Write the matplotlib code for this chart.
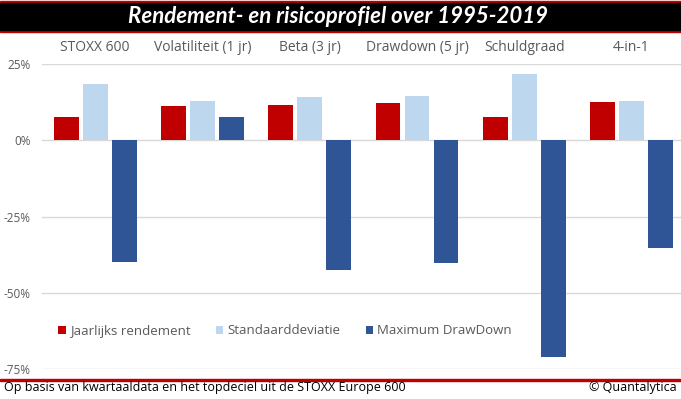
import numpy as np
import matplotlib
matplotlib.use('Agg')
import matplotlib.pyplot as plt
from matplotlib.patches import Rectangle

plt.rcParams['font.family'] = ['Open Sans', 'DejaVu Sans']

# data (fracties)
categorieen = ['STOXX 600', 'Volatiliteit (1 jr)', 'Beta (3 jr)', 'Drawdown (5 jr)', 'Schuldgraad', '4-in-1']
rendement = [0.076, 0.112, 0.115, 0.123, 0.076, 0.126]
stdev = [0.184, 0.128, 0.141, 0.146, 0.217, 0.128]
max_dd = [-0.40, 0.076, -0.427, -0.403, -0.71, -0.354]
reeksen = ['Jaarlijks rendement', 'Standaarddeviatie', 'Maximum DrawDown']
kleuren = ['#C00000', '#BDD7EE', '#2F5597']
yticks = [0.25, 0, -0.25, -0.5, -0.75]

W, H = 681, 399
fig = plt.figure(figsize=(W / 100, H / 100), dpi=100)

# titelbalk
fig.patches.append(Rectangle((0, 1 - 32 / H), 1, 31 / H, transform=fig.transFigure, color='#C00000', zorder=0))
fig.patches.append(Rectangle((0, 1 - 29.5 / H), 1, 26.3 / H, transform=fig.transFigure, color='black', zorder=1))
fig.text(338 / W, 1 - 16.5 / H, 'Rendement- en risicoprofiel over 1995-2019', color='white',
         fontsize=16, fontweight='bold', fontstyle='italic', family='Lato', ha='center', va='center')

ax = fig.add_axes([41.6 / W, 30 / H, 643.5 / W, 305 / H])
x = np.arange(len(categorieen))
b = 0.23
stap = 0.27
for i, (vals, kl) in enumerate(zip([rendement, stdev, max_dd], kleuren)):
    ax.bar(x + (i - 1) * stap, vals, b, color=kl, label=reeksen[i], zorder=3)

ax.set_xlim(-0.5, len(categorieen) - 0.5)
ax.set_ylim(-0.75, 0.25)
ax.set_yticks(yticks)
ax.set_yticklabels(['{:.0f}%'.format(v * 100) for v in yticks], color='#595959', fontsize=8.5)
ax.set_xticks([])
ax.tick_params(axis='y', length=0, pad=8)
ax.grid(axis='y', color='#D9D9D9', lw=1, zorder=0)
for s in ax.spines.values():
    s.set_visible(False)

# categorienamen boven
for xi, naam in zip(x, categorieen):
    ax.text(xi, 0.25 + 0.25 * 16 / 76, naam, ha='center', va='center', fontsize=10, color='#595959')

ax.legend(loc='center', bbox_to_anchor=(285 / W, 1 - 331 / H), bbox_transform=fig.transFigure,
          ncol=3, frameon=False, fontsize=9.5, handlelength=0.6, handleheight=0.6,
          handletextpad=0.3, columnspacing=1.9, labelcolor='#595959')

# onderste lijn + voetnoot
fig.patches.append(Rectangle((0, 1 - 380.5 / H), 1, 2 / H, transform=fig.transFigure, color='#C00000'))
fig.text(4 / W, 1 - 387.5 / H, 'Op basis van kwartaaldata en het topdeciel uit de STOXX Europe 600',
         fontsize=9, color='black', ha='left', va='center')
fig.text(677 / W, 1 - 387.5 / H, '© Quantalytica', fontsize=9, color='black', ha='right', va='center')

fig.savefig('out.png', dpi=100)
